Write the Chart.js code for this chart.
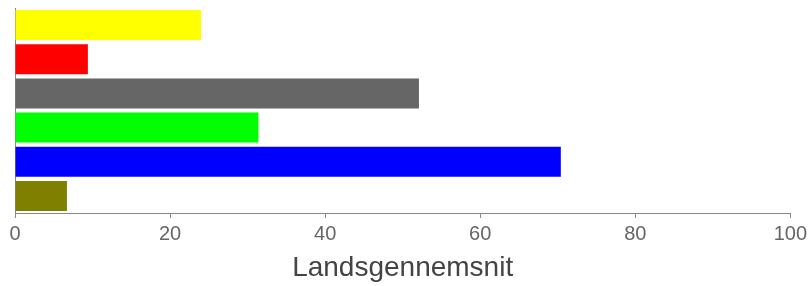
<!DOCTYPE html>
<html>
<head>
<meta charset="utf-8">
<script src="https://cdn.jsdelivr.net/npm/chart.js@4"></script>
<style>
html,body{margin:0;padding:0;background:#fff;}
#wrap{width:811px;height:286px;}
</style>
</head>
<body>
<div id="wrap"><canvas id="c" width="811" height="286"></canvas></div>
<script>
const categories = ["A", "B", "C", "D", "E", "F"];
const values = [24.0, 9.4, 52.1, 31.4, 70.4, 6.7];
const barColors = ["#ffff00", "#ff0000", "#666666", "#00ff00", "#0000ff", "#808000"];
const xTicks = [0, 20, 40, 60, 80, 100];
const axisTitle = "Landsgennemsnit";

new Chart(document.getElementById('c'), {
  type: 'bar',
  data: {
    labels: categories,
    datasets: [{
      data: values,
      backgroundColor: barColors,
      borderWidth: 0,
      barPercentage: 0.88,
      categoryPercentage: 1.0
    }]
  },
  options: {
    indexAxis: 'y',
    responsive: false,
    animation: false,
    layout: { padding: { left: 15, right: 20, top: 8, bottom: 0 } },
    plugins: { legend: { display: false }, tooltip: { enabled: false } },
    scales: {
      x: {
        min: 0, max: 100,
        afterBuildTicks: s => { s.ticks = xTicks.map(v => ({ value: v })); },
        afterFit: s => { s.height = 73; },
        grid: { drawOnChartArea: false, drawTicks: true, tickLength: 5, color: '#888888' },
        border: { display: true, color: '#888888', width: 1 },
        ticks: { color: '#666666', font: { family: 'Liberation Sans, Arial, sans-serif', size: 20 }, padding: 4, maxRotation: 0 },
        title: { display: true, text: axisTitle, color: '#444444', font: { family: 'Liberation Sans, Arial, sans-serif', size: 28 }, padding: { top: 0, bottom: 1 } }
      },
      y: {
        afterFit: s => { s.width = 0; },
        grid: { display: false },
        border: { display: true, color: '#888888', width: 1 },
        ticks: { display: false }
      }
    }
  }
});
</script>
</body>
</html>
